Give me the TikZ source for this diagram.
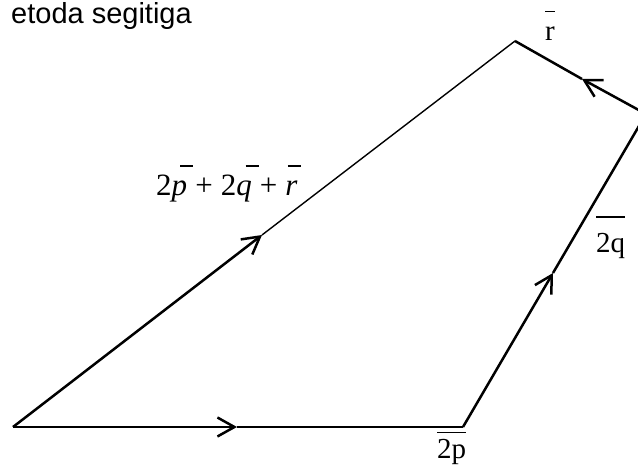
\documentclass[tikz,border=0pt]{standalone}
\usepackage{fontspec}
\setmainfont{Liberation Serif}
\newfontfamily\titlefont{Liberation Sans}
\usetikzlibrary{arrows.meta}
\newsavebox\lbox
% upright label with one bar over the whole text
\newcommand\hibar[2]{\sbox\lbox{#2}\rlap{\rule[#1]{\wd\lbox}{0.045em}}\usebox\lbox}
% italic letter with short bar above
\newcommand\ibar[2]{\sbox\lbox{\itshape #2}\rlap{\hspace{#1}\rule[0.95em]{0.42em}{0.045em}}\usebox\lbox}
\newcommand\plussp{\hspace{0.26em}+\hspace{0.26em}}
\begin{document}
\begin{tikzpicture}[x=1pt,y=1pt,
  vec/.style={line width=2.5pt},
  thinvec/.style={line width=1.4pt},
  tip/.style={-{Straight Barb[length=17pt,width=19pt,line width=2.5pt]}},
  lbl/.style={inner sep=0pt,font=\fontsize{29}{34}\selectfont}]
\useasboundingbox (0,0) rectangle (638,471);
\clip (0,0) rectangle (638,471);
\coordinate (A) at (13,44);
\coordinate (B) at (463,44);
\coordinate (C) at (646,357);
\coordinate (D) at (515,430);
\coordinate (mAB) at (237,44);
\coordinate (mBC) at (553,198);
\coordinate (mCD) at (582,392);
\coordinate (mAD) at (262,236);
% vectors
\draw[vec,tip] (A) -- (mAB);
\draw[vec] (mAB) -- (B);
\draw[vec,tip] (B) -- (mBC);
\draw[vec] (mBC) -- (C);
\draw[vec,tip] (C) -- (mCD);
\draw[vec] (mCD) -- (D);
\draw[vec,tip] (A) -- (mAD);
\draw[thinvec] (mAD) -- (D);
% labels
\node[lbl,anchor=base east,font=\titlefont\fontsize{29}{34}\selectfont] (title) at (192,447) {etoda segitiga};
\node[lbl,anchor=base west,font=\fontsize{31}{36}\selectfont] (sum) at (156,275) {2\ibar{0.28em}{p}\plussp2\ibar{0.3em}{q}\plussp\ibar{0.08em}{r}};
\node[lbl,anchor=base west] (lq) at (596,218) {\hibar{1.22em}{2q}};
\node[lbl,anchor=base west] (lp) at (437,12) {\hibar{0.9em}{2p}};
\node[lbl,anchor=base west] (lr) at (545,430) {\hibar{1em}{r}};
\end{tikzpicture}
\end{document}
